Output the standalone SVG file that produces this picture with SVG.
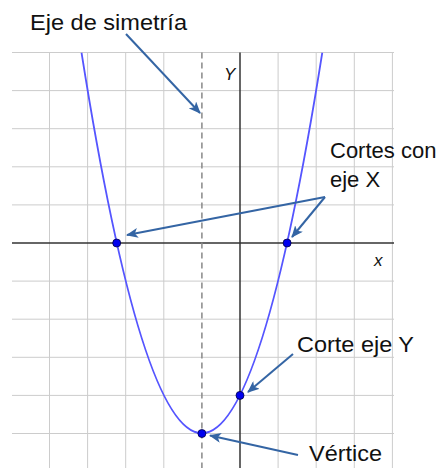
<svg xmlns="http://www.w3.org/2000/svg" width="446" height="468" viewBox="0 0 446 468">
  <defs>
    <style>
      .grid line { stroke: #cccccc; stroke-width: 1; }
      .axis { stroke: #333333; stroke-width: 1.5; }
      .sym { stroke: #888888; stroke-width: 1.5; stroke-dasharray: 6 4; }
      .curve { fill: none; stroke: #5555ff; stroke-width: 1.8; }
      .pt { fill: #0000ee; stroke: #000044; stroke-width: 0.8; }
      .conn { stroke: #3465a4; stroke-width: 2; fill: none; marker-end: url(#ah); }
      .lbl { font-family: "Liberation Sans", Arial, sans-serif; font-size: 22px; fill: #111111; }
      .axl { font-family: "Liberation Sans", Arial, sans-serif; font-size: 17px; font-style: italic; fill: #111111; }
    </style>
    <marker id="ah" viewBox="0 0 12 10" refX="11" refY="5" markerWidth="12" markerHeight="10" markerUnits="userSpaceOnUse" orient="auto">
      <path d="M0,0 L12,5 L0,10 L3,5 Z" fill="#3465a4"/>
    </marker>
    <clipPath id="plot"><rect x="0" y="52.5" width="446" height="416"/></clipPath>
  </defs>
  <rect width="446" height="468" fill="#ffffff"/>
  <g id="grid" class="grid">
    <line x1="49.5" y1="52.5" x2="49.5" y2="468"/>
    <line x1="87.6" y1="52.5" x2="87.6" y2="468"/>
    <line x1="125.7" y1="52.5" x2="125.7" y2="468"/>
    <line x1="163.8" y1="52.5" x2="163.8" y2="468"/>
    <line x1="278.1" y1="52.5" x2="278.1" y2="468"/>
    <line x1="316.2" y1="52.5" x2="316.2" y2="468"/>
    <line x1="354.3" y1="52.5" x2="354.3" y2="468"/>
    <line x1="392.4" y1="52.5" x2="392.4" y2="468"/>
    <line x1="12" y1="52.5" x2="394" y2="52.5"/>
    <line x1="12" y1="90.6" x2="394" y2="90.6"/>
    <line x1="12" y1="128.7" x2="394" y2="128.7"/>
    <line x1="12" y1="166.8" x2="394" y2="166.8"/>
    <line x1="12" y1="204.9" x2="394" y2="204.9"/>
    <line x1="12" y1="281.1" x2="394" y2="281.1"/>
    <line x1="12" y1="319.2" x2="394" y2="319.2"/>
    <line x1="12" y1="357.3" x2="394" y2="357.3"/>
    <line x1="12" y1="395.4" x2="394" y2="395.4"/>
    <line x1="12" y1="433.5" x2="394" y2="433.5"/>
  </g>
  <g id="axes">
    <line class="axis" x1="12" y1="243" x2="394" y2="243"/>
    <line class="axis" x1="240" y1="52.5" x2="240" y2="468"/>
    <text class="axl" x="224" y="80">Y</text>
    <text class="axl" x="374" y="266">x</text>
  </g>
  <g id="symmetry-axis">
    <line class="sym" x1="201.9" y1="52.5" x2="201.9" y2="468"/>
  </g>
  <g id="parabola">
    <path class="curve" clip-path="url(#plot)" d="M81.5,52.5 Q201.9,814 322.3,52.5"/>
  </g>
  <g id="points">
    <circle id="root-left" class="pt" cx="116.7" cy="243" r="4"/>
    <circle id="root-right" class="pt" cx="287.1" cy="243" r="4"/>
    <circle id="y-intercept" class="pt" cx="240" cy="395.4" r="4"/>
    <circle id="vertex" class="pt" cx="201.9" cy="433.5" r="4"/>
  </g>
  <g id="connectors">
    <line class="conn" x1="126" y1="34" x2="200" y2="113"/>
    <line class="conn" x1="325" y1="197" x2="127" y2="235"/>
    <line class="conn" x1="325" y1="197" x2="292" y2="237"/>
    <line class="conn" x1="293" y1="354" x2="248" y2="392"/>
    <line class="conn" x1="298" y1="455" x2="210" y2="435.5"/>
  </g>
  <g id="label-eje">
    <text class="lbl" x="30" y="30" textLength="157" lengthAdjust="spacingAndGlyphs">Eje de simetría</text>
  </g>
  <g id="label-cortes-x">
    <text class="lbl" x="330" y="158">Cortes con</text>
    <text class="lbl" x="330" y="187">eje X</text>
  </g>
  <g id="label-corte-y">
    <text class="lbl" x="297" y="352" textLength="117" lengthAdjust="spacingAndGlyphs">Corte eje Y</text>
  </g>
  <g id="label-vertice">
    <text class="lbl" x="309" y="461" textLength="73" lengthAdjust="spacingAndGlyphs">Vértice</text>
  </g>
</svg>
